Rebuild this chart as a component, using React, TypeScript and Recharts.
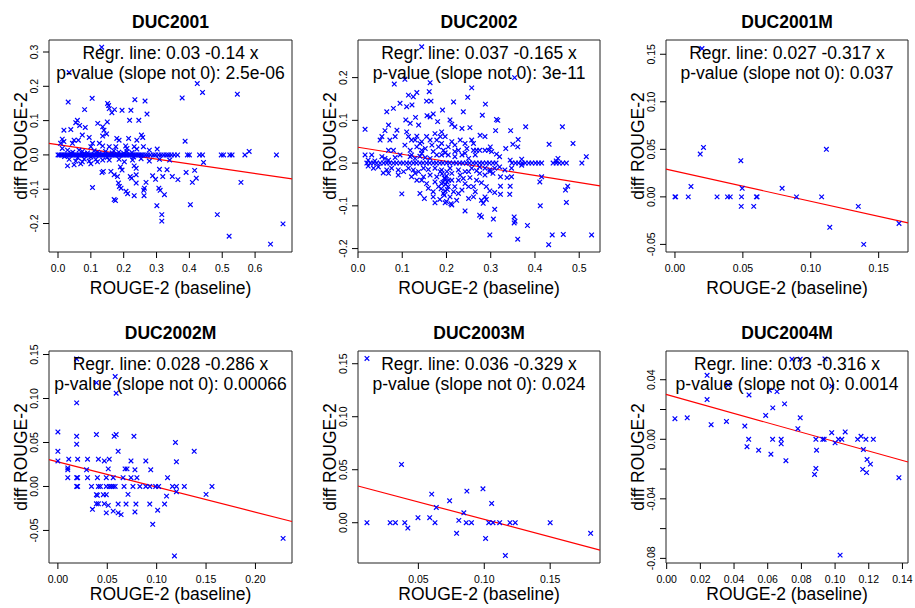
import React from "react";
import { ScatterChart, Scatter, XAxis, YAxis, ReferenceLine, ReferenceArea } from "recharts";

type Pt = [number, number];

// ---------- DATA ----------
const titles = ["DUC2001", "DUC2002", "DUC2001M", "DUC2002M", "DUC2003M", "DUC2004M"];
const intercepts = [0.03, 0.037, 0.027, 0.028, 0.036, 0.03];
const slopes = [-0.14, -0.165, -0.317, -0.286, -0.329, -0.316];
const regrLabels = [
  "Regr. line: 0.03 -0.14 x",
  "Regr. line: 0.037 -0.165 x",
  "Regr. line: 0.027 -0.317 x",
  "Regr. line: 0.028 -0.286 x",
  "Regr. line: 0.036 -0.329 x",
  "Regr. line: 0.03 -0.316 x",
];
const pLabels = [
  "p-value (slope not 0): 2.5e-06",
  "p-value (slope not 0): 3e-11",
  "p-value (slope not 0): 0.037",
  "p-value (slope not 0): 0.00066",
  "p-value (slope not 0): 0.024",
  "p-value (slope not 0): 0.0014",
];
const xTitle = "ROUGE-2 (baseline)";
const yTitle = "diff ROUGE-2";

const xTicks: number[][] = [
  [0, 0.1, 0.2, 0.3, 0.4, 0.5, 0.6],
  [0, 0.1, 0.2, 0.3, 0.4, 0.5],
  [0, 0.05, 0.1, 0.15],
  [0, 0.05, 0.1, 0.15, 0.2],
  [0.05, 0.1, 0.15],
  [0, 0.02, 0.04, 0.06, 0.08, 0.1, 0.12, 0.14],
];
const xTickDecimals = [1, 1, 2, 2, 2, 2];
const yTicks: number[][] = [
  [-0.2, -0.1, 0, 0.1, 0.2, 0.3],
  [-0.2, -0.1, 0, 0.1, 0.2],
  [-0.05, 0, 0.05, 0.1, 0.15],
  [-0.05, 0, 0.05, 0.1, 0.15],
  [0, 0.05, 0.1, 0.15],
  [-0.08, -0.06, -0.04, -0.02, 0, 0.02, 0.04],
];
const yLabeledTicks: number[][] = [
  [-0.2, -0.1, 0, 0.1, 0.2, 0.3],
  [-0.2, -0.1, 0, 0.1, 0.2],
  [-0.05, 0, 0.05, 0.1, 0.15],
  [-0.05, 0, 0.05, 0.1, 0.15],
  [0, 0.05, 0.1, 0.15],
  [-0.08, -0.04, 0, 0.04],
];
const yTickDecimals = [1, 1, 2, 2, 2, 2];

const duc2001: Pt[] = [
  [0.133, 0.314], [0.034, 0.24], [0.424, 0.208], [0.44, 0.182], [0.546, 0.177], [0.378, 0.166], [0.031, 0.154],
  [0.104, 0.165], [0.151, 0.15], [0.154, 0.144], [0.156, 0.135], [0.234, 0.161], [0.265, 0.157], [0.081, 0.132],
  [0.172, 0.132], [0.164, 0.123], [0.195, 0.13], [0.222, 0.13], [0.271, 0.119], [0.15, 0.096], [0.218, 0.101],
  [0.246, 0.101], [0.059, 0.101], [0.054, 0.094], [0.066, 0.086], [0.083, 0.08], [0.121, 0.092], [0.136, 0.082],
  [0.018, 0.072], [0.039, 0.074], [0.074, 0.058], [0.095, 0.051], [0.14, 0.072], [0.136, 0.055], [0.148, 0.061],
  [0.179, 0.048], [0.186, 0.043], [0.215, 0.048], [0.24, 0.043], [0.254, 0.058], [0.258, 0.051], [0.387, 0.04],
  [0.013, 0.046], [0.018, 0.039], [0.008, 0.034], [0.049, 0.043], [0.044, 0.034], [0.062, 0.043], [0.105, 0.034],
  [0.1, 0.024], [0.126, 0.034], [0.136, 0.026], [0.156, 0.024], [0.176, 0.024], [0.206, 0.026], [0.21, 0.019],
  [0.232, 0.024], [0.24, 0.017], [0.26, 0.024], [0.278, 0.014], [0.302, 0.017], [0.582, 0.01], [0.013, 0.019],
  [0.029, 0.014], [0.064, 0.014], [0.074, 0.01], [0.11, 0.012], [0.12, 0.008], [0.145, 0.01], [0.165, 0.006],
  [0.185, 0.008], [0.2, 0.005], [0.225, 0.007], [0.045, 0.008], [0.09, 0.006],
  [0.02, -0.005], [0.04, 0.005], [0.06, -0.008], [0.08, 0.004], [0.1, -0.006], [0.125, 0.004], [0.15, -0.007],
  [0.17, 0.012], [0.21, 0.01], [0.23, -0.006], [0.08, -0.012], [0.12, -0.02],
  [0.0, 0], [0.004, 0], [0.009, 0], [0.013, 0], [0.018, 0], [0.022, 0], [0.027, 0], [0.031, 0], [0.036, 0],
  [0.04, 0], [0.045, 0], [0.049, 0], [0.054, 0], [0.058, 0], [0.063, 0], [0.067, 0], [0.072, 0], [0.076, 0],
  [0.081, 0], [0.085, 0], [0.09, 0], [0.094, 0], [0.099, 0], [0.103, 0], [0.108, 0], [0.112, 0], [0.117, 0],
  [0.121, 0], [0.126, 0], [0.13, 0], [0.135, 0], [0.139, 0], [0.144, 0], [0.148, 0], [0.153, 0], [0.157, 0],
  [0.162, 0], [0.166, 0], [0.171, 0], [0.175, 0], [0.18, 0], [0.184, 0], [0.189, 0], [0.193, 0], [0.198, 0],
  [0.202, 0], [0.207, 0], [0.211, 0], [0.216, 0], [0.22, 0], [0.225, 0], [0.229, 0], [0.234, 0], [0.238, 0],
  [0.243, 0], [0.247, 0], [0.252, 0], [0.258, 0], [0.266, 0], [0.273, 0], [0.281, 0], [0.29, 0], [0.297, 0],
  [0.306, 0], [0.314, 0], [0.322, 0], [0.33, 0], [0.337, 0], [0.345, 0], [0.354, 0], [0.364, 0], [0.394, 0],
  [0.4, 0], [0.431, 0], [0.44, 0], [0.497, 0], [0.504, 0], [0.523, 0], [0.53, 0], [0.569, 0], [0.665, 0],
  [0.034, -0.013], [0.054, -0.018], [0.074, -0.02], [0.095, -0.018], [0.115, -0.013], [0.136, -0.015],
  [0.156, -0.015], [0.186, -0.013], [0.202, -0.02], [0.227, -0.015], [0.253, -0.011], [0.278, -0.018],
  [0.309, -0.013], [0.34, -0.015], [0.029, -0.032], [0.049, -0.029], [0.069, -0.026], [0.1, -0.026],
  [0.19, -0.035], [0.195, -0.044], [0.232, -0.032], [0.238, -0.039], [0.309, -0.042], [0.332, -0.043],
  [0.443, -0.022], [0.39, -0.051], [0.416, -0.045], [0.134, -0.051], [0.138, -0.048], [0.161, -0.048],
  [0.171, -0.058], [0.181, -0.063], [0.22, -0.063], [0.224, -0.068], [0.238, -0.058], [0.288, -0.061],
  [0.297, -0.071], [0.319, -0.063], [0.348, -0.063], [0.365, -0.072], [0.409, -0.08], [0.421, -0.068],
  [0.557, -0.08], [0.105, -0.095], [0.184, -0.082], [0.187, -0.092], [0.238, -0.082], [0.268, -0.08],
  [0.263, -0.097], [0.207, -0.106], [0.212, -0.113], [0.192, -0.097], [0.307, -0.097], [0.311, -0.103],
  [0.324, -0.116], [0.232, -0.119], [0.261, -0.103], [0.262, -0.119], [0.171, -0.13], [0.175, -0.133],
  [0.301, -0.148], [0.403, -0.145], [0.316, -0.174], [0.316, -0.193], [0.485, -0.174], [0.685, -0.201],
  [0.521, -0.237], [0.647, -0.26],
];

const duc2002: Pt[] = [
  [0.144, 0.272], [0.082, 0.185], [0.106, 0.196], [0.163, 0.188], [0.161, 0.167], [0.165, 0.145], [0.155, 0.145],
  [0.257, 0.176], [0.114, 0.159], [0.125, 0.155], [0.133, 0.165], [0.095, 0.14], [0.11, 0.132], [0.122, 0.136],
  [0.08, 0.128], [0.065, 0.12], [0.216, 0.143], [0.248, 0.154], [0.191, 0.124], [0.238, 0.12], [0.17, 0.115],
  [0.163, 0.108], [0.156, 0.111], [0.13, 0.107], [0.108, 0.101], [0.118, 0.093], [0.137, 0.089], [0.18, 0.097],
  [0.208, 0.101], [0.212, 0.091], [0.016, 0.079], [0.069, 0.089], [0.061, 0.076], [0.054, 0.062], [0.05, 0.054],
  [0.088, 0.077], [0.084, 0.062], [0.072, 0.054], [0.11, 0.073], [0.114, 0.062], [0.121, 0.054], [0.133, 0.063],
  [0.155, 0.062], [0.174, 0.069], [0.189, 0.073], [0.197, 0.062], [0.219, 0.085], [0.231, 0.054], [0.235, 0.081],
  [0.253, 0.083], [0.257, 0.054], [0.242, 0.046], [0.219, 0.042], [0.204, 0.038], [0.144, 0.05], [0.163, 0.054],
  [0.178, 0.054], [0.182, 0.038], [0.189, 0.046], [0.133, 0.038], [0.144, 0.03], [0.152, 0.034], [0.106, 0.042],
  [0.118, 0.03], [0.08, 0.03], [0.069, 0.03],
  [0.129, 0.054], [0.14, 0.046], [0.167, 0.042], [0.186, 0.062], [0.193, 0.03], [0.212, 0.05], [0.227, 0.03],
  [0.246, 0.034], [0.261, 0.046], [0.268, 0.03], [0.121, 0.019], [0.144, 0.023], [0.17, 0.027], [0.197, 0.024],
  [0.219, 0.027], [0.242, 0.023], [0.261, 0.03],
  [0.016, 0.019], [0.031, 0.019], [0.023, 0.007], [0.038, 0.005], [0.054, 0.015], [0.061, 0.011], [0.069, 0.007],
  [0.084, 0.013], [0.095, 0.019], [0.118, 0.015], [0.129, 0.011], [0.14, 0.016], [0.152, 0.013], [0.163, 0.011],
  [0.178, 0.019], [0.189, 0.019], [0.204, 0.019], [0.219, 0.015], [0.235, 0.019], [0.25, 0.011], [0.265, 0.019],
  [0.354, 0.2], [0.288, 0.138], [0.281, 0.112], [0.313, 0.102], [0.316, 0.1], [0.379, 0.085], [0.462, 0.085],
  [0.311, 0.076], [0.345, 0.076], [0.276, 0.065], [0.287, 0.062], [0.362, 0.055], [0.35, 0.044], [0.361, 0.038],
  [0.432, 0.044], [0.486, 0.046], [0.334, 0.034], [0.299, 0.038], [0.295, 0.03], [0.302, 0.027], [0.287, 0.03],
  [0.275, 0.03], [0.32, 0.015], [0.313, 0.021], [0.452, 0.011], [0.448, 0.005], [0.516, 0.015], [0.344, 0.007],
  [0.37, 0.009],
  [0.02, 0], [0.028, 0], [0.035, 0], [0.042, 0], [0.05, 0], [0.058, 0], [0.065, 0], [0.072, 0], [0.08, 0],
  [0.087, 0], [0.095, 0], [0.102, 0], [0.11, 0], [0.117, 0], [0.125, 0], [0.132, 0], [0.14, 0], [0.147, 0],
  [0.155, 0], [0.162, 0], [0.17, 0], [0.177, 0], [0.185, 0], [0.192, 0], [0.2, 0], [0.207, 0], [0.215, 0],
  [0.222, 0], [0.23, 0], [0.237, 0], [0.245, 0], [0.252, 0], [0.26, 0], [0.267, 0], [0.275, 0], [0.282, 0],
  [0.29, 0], [0.297, 0], [0.305, 0], [0.312, 0], [0.348, 0], [0.356, 0], [0.363, 0], [0.371, 0], [0.378, 0],
  [0.386, 0], [0.393, 0], [0.401, 0], [0.408, 0], [0.415, 0], [0.441, 0], [0.448, 0], [0.455, 0], [0.463, 0],
  [0.471, 0], [0.506, 0],
  [0.023, -0.007], [0.035, -0.012], [0.046, -0.009], [0.065, -0.016], [0.076, -0.012], [0.091, -0.016],
  [0.103, -0.02], [0.114, -0.012], [0.125, -0.016], [0.137, -0.02], [0.148, -0.012], [0.159, -0.015],
  [0.174, -0.012], [0.189, -0.016], [0.201, -0.02], [0.212, -0.024], [0.227, -0.016], [0.242, -0.02],
  [0.257, -0.012], [0.268, -0.018], [0.069, -0.024], [0.057, -0.023], [0.091, -0.028], [0.121, -0.032],
  [0.148, -0.032], [0.163, -0.028], [0.178, -0.032], [0.197, -0.036], [0.212, -0.04], [0.227, -0.04],
  [0.238, -0.036], [0.253, -0.034], [0.133, -0.04], [0.155, -0.048], [0.174, -0.044], [0.189, -0.048],
  [0.204, -0.055], [0.219, -0.055], [0.242, -0.048], [0.261, -0.055], [0.14, -0.071], [0.17, -0.067],
  [0.197, -0.065], [0.208, -0.079], [0.227, -0.071], [0.25, -0.083], [0.261, -0.079], [0.099, -0.072],
  [0.15, -0.083], [0.174, -0.093], [0.197, -0.093], [0.212, -0.098], [0.242, -0.112], [0.19, -0.025],
  [0.195, -0.035], [0.2, -0.03], [0.192, -0.045], [0.198, -0.05], [0.205, -0.04], [0.188, -0.06],
  [0.202, -0.062], [0.195, -0.075], [0.185, -0.085], [0.2, -0.09], [0.21, -0.095],
  [0.129, -0.024], [0.144, -0.04], [0.159, -0.059], [0.17, -0.079], [0.182, -0.055], [0.193, -0.071],
  [0.201, -0.044], [0.216, -0.067], [0.223, -0.087], [0.235, -0.063], [0.25, -0.055], [0.265, -0.067],
  [0.268, -0.04], [0.186, -0.02], [0.208, -0.012], [0.231, -0.028], [0.25, -0.02],
  [0.275, -0.009], [0.287, -0.012], [0.298, -0.016], [0.309, -0.012], [0.32, -0.009], [0.332, -0.016],
  [0.347, -0.012], [0.37, -0.005], [0.275, -0.024], [0.287, -0.028], [0.298, -0.02], [0.305, -0.024],
  [0.322, -0.032], [0.337, -0.034], [0.347, -0.032], [0.415, -0.032], [0.411, -0.044], [0.474, -0.054],
  [0.469, -0.063], [0.279, -0.046], [0.29, -0.055], [0.298, -0.065], [0.309, -0.069], [0.322, -0.054],
  [0.344, -0.054], [0.322, -0.073], [0.343, -0.073], [0.287, -0.079], [0.279, -0.087], [0.29, -0.085],
  [0.283, -0.094], [0.412, -0.1], [0.471, -0.092], [0.309, -0.108], [0.275, -0.122], [0.279, -0.126],
  [0.353, -0.126], [0.355, -0.136], [0.353, -0.14], [0.306, -0.131], [0.383, -0.146], [0.298, -0.168],
  [0.361, -0.178], [0.439, -0.168], [0.464, -0.167], [0.528, -0.168], [0.431, -0.191],
];

const duc2001M: Pt[] = [
  [0.0, 0], [0.0005, 0], [0.0098, 0], [0.0118, 0.011], [0.0186, 0.045], [0.021, 0.052], [0.0199, 0.156],
  [0.031, 0], [0.0387, 0], [0.0407, 0], [0.0485, 0.038], [0.049, 0], [0.0488, -0.01], [0.0495, 0.009],
  [0.058, -0.01], [0.06, 0], [0.0605, 0], [0.0789, 0.009], [0.0895, 0], [0.108, 0], [0.1115, 0.05],
  [0.114, -0.032], [0.135, -0.01], [0.139, -0.05], [0.165, -0.028],
];

const duc2002M: Pt[] = [
  [0.019, 0.145], [0.058, 0.125], [0.039, 0.118], [0.059, 0.106], [0.019, 0.095], [0.0, 0.062], [0.019, 0.057],
  [0.019, 0.048], [0.039, 0.059], [0.057, 0.057], [0.059, 0.059], [0.077, 0.057], [0.061, 0.04], [0.119, 0.05],
  [0.138, 0.04], [0.0, 0.04], [0.0, 0.029], [0.011, 0.031], [0.02, 0.031], [0.03, 0.031], [0.041, 0.031],
  [0.052, 0.031], [0.047, 0.029], [0.074, 0.029], [0.089, 0.029], [0.12, 0.028], [0.01, 0.021], [0.01, 0.019],
  [0.029, 0.019], [0.051, 0.02], [0.068, 0.02], [0.07, 0.02], [0.078, 0.019], [0.094, 0.019], [0.01, 0.01],
  [0.019, 0.01], [0.02, 0.01], [0.03, 0.01], [0.04, 0.01], [0.049, 0.01], [0.056, 0.01], [0.066, 0.01],
  [0.074, 0.01], [0.08, 0.01], [0.111, 0.01],
  [0.019, 0], [0.02, 0], [0.034, 0], [0.041, 0], [0.043, 0], [0.049, 0], [0.052, 0], [0.054, 0], [0.056, 0],
  [0.058, 0], [0.067, 0], [0.076, 0], [0.083, 0], [0.089, 0], [0.093, 0], [0.099, 0], [0.102, 0], [0.116, 0],
  [0.12, 0], [0.128, 0], [0.156, 0],
  [0.039, -0.0094], [0.04, -0.01], [0.046, -0.0094], [0.049, -0.0094], [0.071, -0.009], [0.11, -0.011],
  [0.12, -0.006], [0.15, -0.009], [0.039, -0.0197], [0.041, -0.0197], [0.047, -0.0197], [0.051, -0.0215],
  [0.061, -0.02], [0.069, -0.02], [0.079, -0.02], [0.093, -0.02], [0.108, -0.02], [0.035, -0.026],
  [0.049, -0.03], [0.056, -0.028], [0.061, -0.03], [0.064, -0.032], [0.078, -0.029], [0.101, -0.027],
  [0.096, -0.043], [0.118, -0.079], [0.228, -0.059],
];

const duc2003M: Pt[] = [
  [0.011, 0.155], [0.011, 0], [0.0286, 0], [0.0326, 0], [0.0397, 0], [0.0372, 0.055], [0.042, -0.005],
  [0.0497, 0.0047], [0.0586, 0.0047], [0.0601, 0.027], [0.0626, 0], [0.0636, 0.0144], [0.0737, 0.0207],
  [0.079, -0.01], [0.0807, 0.0022], [0.0845, 0.0094], [0.0863, 0], [0.0868, 0.0298], [0.0903, 0],
  [0.099, 0.032], [0.101, -0.0148], [0.1034, 0], [0.1056, 0.0182], [0.1066, 0], [0.1117, 0],
  [0.116, -0.031], [0.1195, 0], [0.1235, 0], [0.15, 0], [0.1807, -0.01],
];

const duc2004M: Pt[] = [
  [0.0744, 0.0538], [0.0793, 0.0538], [0.094, 0.054], [0.024, 0.043], [0.0365, 0.0364], [0.061, 0.033],
  [0.0655, 0.032], [0.098, 0.0356], [0.0489, 0.0298], [0.024, 0.0267], [0.07, 0.0238], [0.063, 0.0211],
  [0.0588, 0.016], [0.0049, 0.0138], [0.0122, 0.0144], [0.0264, 0.0098], [0.0355, 0.012], [0.0464, 0.0089],
  [0.0793, 0.0144], [0.0779, 0.0071], [0.0487, 0], [0.0629, 0], [0.068, 0], [0.068, -0.003], [0.0477, -0.005],
  [0.0546, -0.0073], [0.0619, -0.01], [0.0708, -0.0144], [0.0886, 0], [0.0927, 0], [0.0935, 0],
  [0.089, -0.0073], [0.098, 0.0044], [0.1, -0.0024], [0.102, 0], [0.104, 0], [0.106, 0.0049], [0.1154, 0.002],
  [0.1134, 0], [0.1183, 0], [0.1227, 0], [0.1168, -0.0069], [0.119, -0.0136], [0.121, -0.0167],
  [0.1164, -0.0202], [0.1187, -0.0224], [0.0886, -0.0196], [0.0878, -0.0236], [0.103, -0.0778], [0.1379, -0.0258],
];

const datasets: Pt[][] = [duc2001, duc2002, duc2001M, duc2002M, duc2003M, duc2004M];

// ---------- LAYOUT ----------
const xDomains: [number, number][] = [
  [-0.0274, 0.7124], [0, 0.547], [-0.0066, 0.1716], [-0.009, 0.237], [0.0042, 0.1878], [-0.0004, 0.1433],
];
const yDomains: [number, number][] = [
  [-0.283, 0.335], [-0.208, 0.288], [-0.058, 0.165], [-0.087, 0.154], [-0.038, 0.162], [-0.0831, 0.0593],
];
const boxes = [
  { l: 49, t: 40, w: 243, h: 212 },
  { l: 358, t: 40, w: 242, h: 212 },
  { l: 666, t: 40, w: 242, h: 212 },
  { l: 49, t: 351, w: 243, h: 212 },
  { l: 358, t: 351, w: 242, h: 212 },
  { l: 666, t: 351, w: 242, h: 212 },
];
const xTitleBaseline = [293.5, 293.5, 293.5, 600, 600, 600];

const ML = 45, MR = 12, MT = 10, MB = 30, XH = 20, YW = 20;
const FONT = "'Liberation Sans', Arial, Helvetica, sans-serif";
const BLUE = "#0000FF";

const Cross = (props: any) => {
  const { cx, cy } = props;
  if (cx == null || cy == null) return null;
  const s = 2.3;
  return (
    <path
      d={`M${cx - s},${cy - s}L${cx + s},${cy + s}M${cx - s},${cy + s}L${cx + s},${cy - s}`}
      stroke={BLUE}
      strokeWidth={1.2}
      fill="none"
    />
  );
};

function Panel({ i }: { i: number }) {
  const box = boxes[i];
  const data = datasets[i].map(([x, y]) => ({ x, y }));
  const [x0, x1] = xDomains[i];
  const [y0, y1] = yDomains[i];
  const a = intercepts[i];
  const b = slopes[i];
  const width = box.w + ML + MR;
  const height = box.h + MT + MB;
  const xDec = xTickDecimals[i];
  const yDec = yTickDecimals[i];
  const labeled = yLabeledTicks[i];

  const XTick = (p: any) => (
    <text x={p.x} y={MT + box.h + 20} textAnchor="middle" fontSize={10.5} fontFamily={FONT} fill="#000">
      {Number(p.payload.value).toFixed(xDec)}
    </text>
  );
  const YTick = (p: any) => {
    const v = Number(p.payload.value);
    if (!labeled.some((l) => Math.abs(l - v) < 1e-9)) return <g />;
    const X = ML - 11;
    return (
      <text
        x={X}
        y={p.y}
        transform={`rotate(-90, ${X}, ${p.y})`}
        textAnchor="middle"
        fontSize={10.5}
        fontFamily={FONT}
        fill="#000"
      >
        {v.toFixed(yDec)}
      </text>
    );
  };

  return (
    <div style={{ position: "absolute", left: box.l - ML, top: box.t - MT, width, height }}>
      <ScatterChart
        width={width}
        height={height}
        margin={{ top: MT, right: MR, bottom: MB - XH, left: ML - YW }}
      >
        <XAxis
          type="number"
          dataKey="x"
          domain={[x0, x1]}
          allowDataOverflow
          ticks={xTicks[i]}
          interval={0}
          height={XH}
          axisLine={false}
          tickLine={{ stroke: "#000" }}
          tickSize={6}
          tickMargin={0}
          tick={XTick}
        />
        <YAxis
          type="number"
          dataKey="y"
          domain={[y0, y1]}
          allowDataOverflow
          ticks={yTicks[i]}
          interval={0}
          width={YW}
          axisLine={false}
          tickLine={{ stroke: "#000" }}
          tickSize={6}
          tickMargin={0}
          tick={YTick}
        />
        <Scatter data={data} shape={Cross} isAnimationActive={false} />
        <ReferenceLine
          segment={[
            { x: x0, y: a + b * x0 },
            { x: x1, y: a + b * x1 },
          ]}
          stroke="#FF0000"
          strokeWidth={1.2}
          ifOverflow="visible"
        />
        <ReferenceArea
          x1={x0}
          x2={x1}
          y1={y0}
          y2={y1}
          fill="none"
          fillOpacity={0}
          stroke="#222"
          strokeWidth={1}
          ifOverflow="visible"
        />
      </ScatterChart>
    </div>
  );
}

export default function App() {
  return (
    <div
      style={{
        position: "absolute",
        left: 0,
        top: 0,
        width: 915,
        height: 608,
        background: "#fff",
        overflow: "hidden",
      }}
    >
      {boxes.map((_, i) => (
        <Panel key={i} i={i} />
      ))}
      <svg
        width={915}
        height={608}
        style={{ position: "absolute", left: 0, top: 0, pointerEvents: "none" }}
        fontFamily={FONT}
      >
        {boxes.map((box, i) => {
          const cx = box.l + box.w / 2;
          const cy = box.t + box.h / 2;
          const yx = box.l - 22;
          return (
            <g key={i}>
              <text x={cx} y={box.t - 12.5} textAnchor="middle" fontSize={17.5} fontWeight="bold" fill="#000">
                {titles[i]}
              </text>
              <text x={cx} y={box.t + 18.5} textAnchor="middle" fontSize={17.5} fill="#000">
                {regrLabels[i]}
              </text>
              <text x={cx} y={box.t + 39} textAnchor="middle" fontSize={17.5} fill="#000">
                {pLabels[i]}
              </text>
              <text x={cx} y={xTitleBaseline[i]} textAnchor="middle" fontSize={17.5} fill="#000">
                {xTitle}
              </text>
              <text
                x={yx}
                y={cy}
                transform={`rotate(-90, ${yx}, ${cy})`}
                textAnchor="middle"
                fontSize={17.5}
                fill="#000"
              >
                {yTitle}
              </text>
            </g>
          );
        })}
      </svg>
    </div>
  );
}
